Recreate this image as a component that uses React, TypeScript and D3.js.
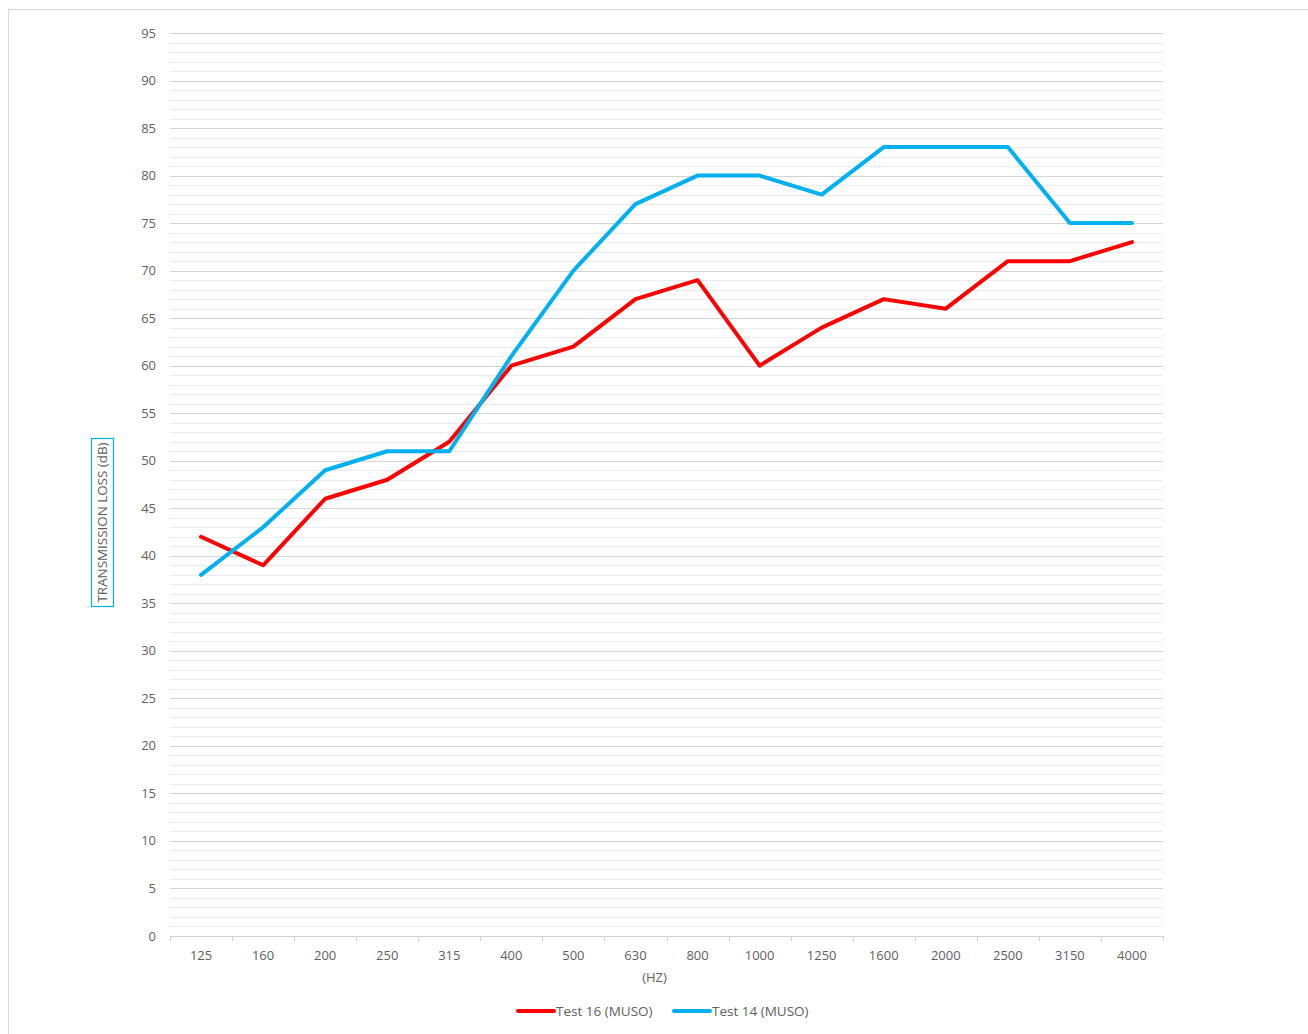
import { useEffect, useRef } from "react";
import * as d3 from "d3";

const FREQS = ["125", "160", "200", "250", "315", "400", "500", "630", "800", "1000", "1250", "1600", "2000", "2500", "3150", "4000"];
const TEST16 = [42, 39, 46, 48, 52, 60, 62, 67, 69, 60, 64, 67, 66, 71, 71, 73];
const TEST14 = [38, 43, 49, 51, 51, 61, 70, 77, 80, 80, 78, 83, 83, 83, 75, 75];
const Y_TICKS = d3.range(0, 96, 5);

const W = 1308;
const H = 1034;
const PLOT = { left: 170, right: 1163, top: 33, bottom: 936 };
const FONT = "'Open Sans', 'Noto Sans', sans-serif";
const TEXT = "#606060";
const RED = "#ff0000";
const BLUE = "#00b0f0";

export default function App() {
  const ref = useRef<SVGSVGElement | null>(null);

  useEffect(() => {
    const svg = d3.select(ref.current);
    svg.selectAll("*").remove();

    const x = d3.scaleBand().domain(FREQS).range([PLOT.left, PLOT.right]);
    const y = d3.scaleLinear().domain([0, 95]).range([PLOT.bottom, PLOT.top]);
    const cx = (f: string) => (x(f) ?? 0) + x.bandwidth() / 2;

    // outer frame
    svg.append("rect")
      .attr("x", 8.5).attr("y", 9.5)
      .attr("width", W + 10).attr("height", H + 10)
      .attr("fill", "#fff").attr("stroke", "#d9d9d9");

    // minor gridlines (every 1 dB)
    svg.append("g")
      .selectAll("line")
      .data(d3.range(1, 96).filter((v) => v % 5 !== 0))
      .join("line")
      .attr("x1", PLOT.left).attr("x2", PLOT.right)
      .attr("y1", (d) => Math.round(y(d)) + 0.5).attr("y2", (d) => Math.round(y(d)) + 0.5)
      .attr("stroke", "#ebebeb").attr("stroke-width", 1);

    // major gridlines
    svg.append("g")
      .selectAll("line")
      .data(Y_TICKS.slice(1))
      .join("line")
      .attr("x1", PLOT.left).attr("x2", PLOT.right)
      .attr("y1", (d) => Math.round(y(d)) + 0.5).attr("y2", (d) => Math.round(y(d)) + 0.5)
      .attr("stroke", "#d4d4d4").attr("stroke-width", 1);

    // y labels
    svg.append("g")
      .selectAll("text")
      .data(Y_TICKS)
      .join("text")
      .attr("x", 156).attr("y", (d) => y(d))
      .attr("dy", "0.35em")
      .attr("text-anchor", "end")
      .attr("font-family", FONT).attr("font-size", 13)
      .attr("fill", TEXT)
      .text((d) => d);

    // x axis line + ticks
    const xAxis = d3.axisBottom(x).tickSize(0).tickPadding(15);
    const gx = svg.append("g").attr("transform", `translate(0,${PLOT.bottom})`).call(xAxis);
    gx.select(".domain").remove();
    gx.selectAll("text")
      .attr("font-family", FONT).attr("font-size", 13)
      .attr("fill", TEXT);
    svg.append("line")
      .attr("x1", PLOT.left).attr("x2", PLOT.right)
      .attr("y1", PLOT.bottom + 0.5).attr("y2", PLOT.bottom + 0.5)
      .attr("stroke", "#d0d0d0");
    const bounds = FREQS.map((f) => x(f) ?? 0).concat([PLOT.right]);
    svg.append("g")
      .selectAll("line")
      .data(bounds)
      .join("line")
      .attr("x1", (d) => Math.round(d) + 0.5).attr("x2", (d) => Math.round(d) + 0.5)
      .attr("y1", PLOT.bottom).attr("y2", PLOT.bottom + 5)
      .attr("stroke", "#d0d0d0");

    svg.append("text")
      .attr("x", (PLOT.left + PLOT.right) / 2 - 12).attr("y", 982)
      .attr("text-anchor", "middle")
      .attr("font-family", FONT).attr("font-size", 13)
      .attr("fill", TEXT)
      .text("(HZ)");

    // y title with box
    svg.append("rect")
      .attr("x", 91.5).attr("y", 438.5)
      .attr("width", 22).attr("height", 168)
      .attr("fill", "none").attr("stroke", BLUE).attr("stroke-width", 1.2);
    svg.append("text")
      .attr("transform", "translate(107,522.5) rotate(-90)")
      .attr("text-anchor", "middle")
      .attr("font-family", FONT).attr("font-size", 13)
      .attr("textLength", 160)
      .attr("lengthAdjust", "spacingAndGlyphs")
      .attr("fill", TEXT)
      .text("TRANSMISSION LOSS (dB)");

    // series
    const line = d3.line<number>()
      .x((_, i) => cx(FREQS[i]))
      .y((d) => y(d));

    const series = [
      { name: "Test 16 (MUSO)", values: TEST16, color: RED },
      { name: "Test 14 (MUSO)", values: TEST14, color: BLUE },
    ];

    series.forEach((s) => {
      svg.append("path")
        .attr("d", line(s.values))
        .attr("fill", "none")
        .attr("stroke", s.color)
        .attr("stroke-width", 4)
        .attr("stroke-linejoin", "round")
        .attr("stroke-linecap", "round");
    });

    // legend
    const lg = svg.append("g").attr("transform", "translate(518,1011)");
    const legX = [0, 156];
    series.forEach((s, i) => {
      const g = lg.append("g").attr("transform", `translate(${legX[i]},0)`);
      g.append("line")
        .attr("x1", 0).attr("x2", 36)
        .attr("stroke", s.color).attr("stroke-width", 4)
        .attr("stroke-linecap", "round");
      g.append("text")
        .attr("x", 38).attr("dy", "0.35em")
        .attr("font-family", FONT).attr("font-size", 13.5)
        .attr("fill", TEXT)
        .text(s.name);
    });
  }, []);

  return (
    <svg ref={ref} width={W} height={H} style={{ position: "absolute", left: 0, top: 0, background: "#fff" }} />
  );
}
